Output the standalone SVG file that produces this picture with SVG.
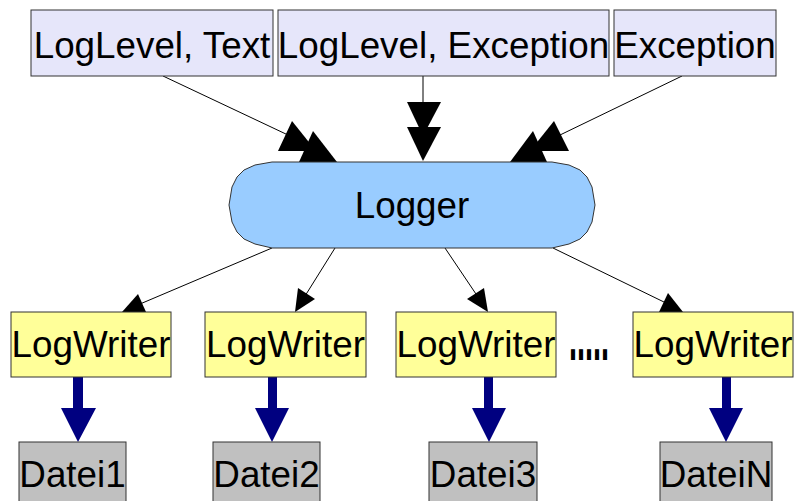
<svg xmlns="http://www.w3.org/2000/svg" width="794" height="501" viewBox="0 0 794 501">
  <style>
    .box { stroke: #333333; stroke-width: 1; }
    .input { fill: #e6e6fa; }
    .writer { fill: #ffff99; }
    .file { fill: #c0c0c0; }
    .logger { fill: #99ccff; stroke: #333333; stroke-width: 1; }
    .lbl { font-family: "Liberation Sans", Arial, sans-serif; font-size: 36.8px; fill: #000000; text-anchor: middle; }
    .line { stroke: #000000; stroke-width: 1; fill: none; }
    .head { fill: #000000; }
    .fat { fill: #000080; }
  </style>

  <!-- connectors (drawn first so node boxes cover the arrow tips) -->
  <g id="connectors">
    <!-- inputs to Logger -->
    <line class="line" x1="163" y1="76" x2="288" y2="135"/>
    <polygon class="head" points="292,121 278,151 316,151"/>
    <polygon class="head" points="313,131 299,162 337,162"/>

    <line class="line" x1="423" y1="76" x2="423" y2="104"/>
    <polygon class="head" points="407,102 441,102 423,136"/>
    <polygon class="head" points="407,127 441,127 423,161"/>

    <line class="line" x1="682" y1="76" x2="560" y2="135"/>
    <polygon class="head" points="554,121 530,151 569,151"/>
    <polygon class="head" points="533,131 510,162 547,162"/>

    <!-- Logger to writers -->
    <line class="line" x1="272" y1="248" x2="140" y2="304"/>
    <polygon class="head" points="122,312 146,312 138,294"/>
    <line class="line" x1="335" y1="248" x2="305" y2="296"/>
    <polygon class="head" points="295,312 315,299 298,288"/>
    <line class="line" x1="445" y1="248" x2="478" y2="297"/>
    <polygon class="head" points="488,312 484,288 467,299"/>
    <line class="line" x1="553" y1="248" x2="666" y2="303"/>
    <polygon class="head" points="683,312 668,293 659,312"/>

    <!-- writers to files -->
    <polygon class="fat" points="73,377 83,377 83,408 96,408 78,442 61,408 73,408"/>
    <polygon class="fat" points="268,377 277,377 277,408 289,408 272,442 255,408 268,408"/>
    <polygon class="fat" points="484,377 493,377 493,408 506,408 489,442 472,408 484,408"/>
    <polygon class="fat" points="722,377 731,377 731,408 743,408 726,442 709,408 722,408"/>
  </g>

  <!-- input messages -->
  <g id="in-loglevel-text">
    <rect class="box input" x="31" y="10" width="242" height="66"/>
    <text class="lbl" x="152" y="58">LogLevel, Text</text>
  </g>
  <g id="in-loglevel-exception">
    <rect class="box input" x="278" y="10" width="331" height="66"/>
    <text class="lbl" x="443.5" y="58">LogLevel, Exception</text>
  </g>
  <g id="in-exception">
    <rect class="box input" x="614" y="10" width="162" height="66"/>
    <text class="lbl" x="695" y="58">Exception</text>
  </g>

  <!-- Logger -->
  <g id="logger">
    <path class="logger" d="M272,162 L552,162 L569,165 L580,170 L587,177 L592,187 L595,205 L592,222 L587,232 L580,239 L569,244 L552,248 L272,248 L255,244 L244,239 L237,232 L232,222 L229,205 L232,187 L237,177 L244,170 L255,165 Z"/>
    <text class="lbl" x="412" y="218">Logger</text>
  </g>

  <!-- writers -->
  <g id="writer1">
    <rect class="box writer" x="11" y="312" width="160" height="65"/>
    <text class="lbl" x="91" y="357">LogWriter</text>
  </g>
  <g id="writer2">
    <rect class="box writer" x="205" y="312" width="161" height="65"/>
    <text class="lbl" x="285.5" y="357">LogWriter</text>
  </g>
  <g id="writer3">
    <rect class="box writer" x="396" y="312" width="160" height="65"/>
    <text class="lbl" x="476" y="357">LogWriter</text>
  </g>
  <g id="ellipsis">
    <text transform="translate(569,360) scale(0.8,2)" font-family="Liberation Sans, Arial, sans-serif" font-size="36" font-weight="bold" fill="#000000">.....</text>
  </g>
  <g id="writerN">
    <rect class="box writer" x="633" y="312" width="160" height="65"/>
    <text class="lbl" x="713" y="357">LogWriter</text>
  </g>

  <!-- files -->
  <g id="file1">
    <rect class="box file" x="19" y="442" width="107" height="70"/>
    <text class="lbl" x="72.5" y="487">Datei1</text>
  </g>
  <g id="file2">
    <rect class="box file" x="213" y="442" width="107" height="70"/>
    <text class="lbl" x="266.5" y="487">Datei2</text>
  </g>
  <g id="file3">
    <rect class="box file" x="429" y="442" width="108" height="70"/>
    <text class="lbl" x="483" y="487">Datei3</text>
  </g>
  <g id="fileN">
    <rect class="box file" x="660" y="442" width="112" height="70"/>
    <text class="lbl" x="716" y="487">DateiN</text>
  </g>
</svg>
